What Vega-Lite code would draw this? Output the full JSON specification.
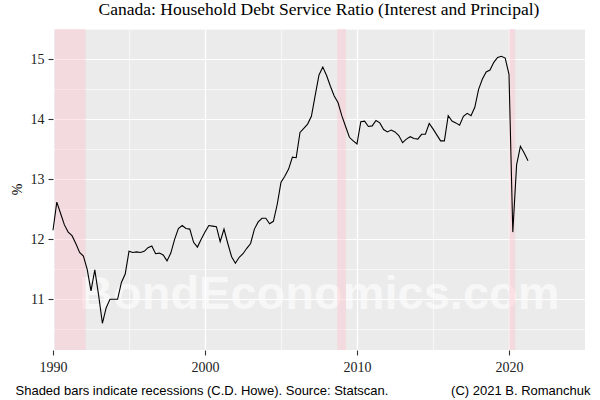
{
  "$schema": "https://vega.github.io/schema/vega-lite/v6.json",
  "autosize": "none",
  "width": 532,
  "height": 321,
  "padding": {"left": 53, "top": 29, "right": 15, "bottom": 50},
  "background": "white",
  "title": {
    "text": "Canada: Household Debt Service Ratio (Interest and Principal)",
    "font": "Liberation Serif",
    "fontSize": 17.5,
    "fontWeight": "normal",
    "color": "black",
    "anchor": "middle",
    "frame": "group",
    "baseline": "alphabetic",
    "offset": -3
  },
  "datasets": {
    "dsr": [
      {"year": 1990.0, "value": 12.15}, {"year": 1990.25, "value": 12.62}, {"year": 1990.5, "value": 12.43}, {"year": 1990.75, "value": 12.24},
      {"year": 1991.0, "value": 12.12}, {"year": 1991.25, "value": 12.06}, {"year": 1991.5, "value": 11.93}, {"year": 1991.75, "value": 11.78},
      {"year": 1992.0, "value": 11.72}, {"year": 1992.25, "value": 11.5}, {"year": 1992.5, "value": 11.14}, {"year": 1992.75, "value": 11.49},
      {"year": 1993.0, "value": 11.07}, {"year": 1993.25, "value": 10.6}, {"year": 1993.5, "value": 10.86}, {"year": 1993.75, "value": 11.0},
      {"year": 1994.0, "value": 11.0}, {"year": 1994.25, "value": 11.0}, {"year": 1994.5, "value": 11.28}, {"year": 1994.75, "value": 11.42},
      {"year": 1995.0, "value": 11.8}, {"year": 1995.25, "value": 11.78}, {"year": 1995.5, "value": 11.79}, {"year": 1995.75, "value": 11.78},
      {"year": 1996.0, "value": 11.8}, {"year": 1996.25, "value": 11.86}, {"year": 1996.5, "value": 11.89}, {"year": 1996.75, "value": 11.76},
      {"year": 1997.0, "value": 11.77}, {"year": 1997.25, "value": 11.74}, {"year": 1997.5, "value": 11.64}, {"year": 1997.75, "value": 11.77},
      {"year": 1998.0, "value": 12.0}, {"year": 1998.25, "value": 12.18}, {"year": 1998.5, "value": 12.23}, {"year": 1998.75, "value": 12.18},
      {"year": 1999.0, "value": 12.17}, {"year": 1999.25, "value": 11.95}, {"year": 1999.5, "value": 11.87}, {"year": 1999.75, "value": 12.0},
      {"year": 2000.0, "value": 12.12}, {"year": 2000.25, "value": 12.23}, {"year": 2000.5, "value": 12.22}, {"year": 2000.75, "value": 12.21},
      {"year": 2001.0, "value": 11.96}, {"year": 2001.25, "value": 12.17}, {"year": 2001.5, "value": 11.93}, {"year": 2001.75, "value": 11.71},
      {"year": 2002.0, "value": 11.6}, {"year": 2002.25, "value": 11.7}, {"year": 2002.5, "value": 11.76}, {"year": 2002.75, "value": 11.85},
      {"year": 2003.0, "value": 11.93}, {"year": 2003.25, "value": 12.17}, {"year": 2003.5, "value": 12.29}, {"year": 2003.75, "value": 12.35},
      {"year": 2004.0, "value": 12.35}, {"year": 2004.25, "value": 12.26}, {"year": 2004.5, "value": 12.3}, {"year": 2004.75, "value": 12.58},
      {"year": 2005.0, "value": 12.95}, {"year": 2005.25, "value": 13.05}, {"year": 2005.5, "value": 13.17}, {"year": 2005.75, "value": 13.37},
      {"year": 2006.0, "value": 13.36}, {"year": 2006.25, "value": 13.78}, {"year": 2006.5, "value": 13.85}, {"year": 2006.75, "value": 13.92},
      {"year": 2007.0, "value": 14.05}, {"year": 2007.25, "value": 14.4}, {"year": 2007.5, "value": 14.74}, {"year": 2007.75, "value": 14.87},
      {"year": 2008.0, "value": 14.73}, {"year": 2008.25, "value": 14.55}, {"year": 2008.5, "value": 14.39}, {"year": 2008.75, "value": 14.28},
      {"year": 2009.0, "value": 14.06}, {"year": 2009.25, "value": 13.88}, {"year": 2009.5, "value": 13.7}, {"year": 2009.75, "value": 13.64},
      {"year": 2010.0, "value": 13.59}, {"year": 2010.25, "value": 13.96}, {"year": 2010.5, "value": 13.97}, {"year": 2010.75, "value": 13.88},
      {"year": 2011.0, "value": 13.89}, {"year": 2011.25, "value": 13.98}, {"year": 2011.5, "value": 13.94}, {"year": 2011.75, "value": 13.83},
      {"year": 2012.0, "value": 13.79}, {"year": 2012.25, "value": 13.82}, {"year": 2012.5, "value": 13.79}, {"year": 2012.75, "value": 13.73},
      {"year": 2013.0, "value": 13.61}, {"year": 2013.25, "value": 13.67}, {"year": 2013.5, "value": 13.71}, {"year": 2013.75, "value": 13.68},
      {"year": 2014.0, "value": 13.67}, {"year": 2014.25, "value": 13.75}, {"year": 2014.5, "value": 13.75}, {"year": 2014.75, "value": 13.93},
      {"year": 2015.0, "value": 13.84}, {"year": 2015.25, "value": 13.74}, {"year": 2015.5, "value": 13.64}, {"year": 2015.75, "value": 13.64},
      {"year": 2016.0, "value": 14.06}, {"year": 2016.25, "value": 13.97}, {"year": 2016.5, "value": 13.94}, {"year": 2016.75, "value": 13.9},
      {"year": 2017.0, "value": 14.05}, {"year": 2017.25, "value": 14.1}, {"year": 2017.5, "value": 14.06}, {"year": 2017.75, "value": 14.2},
      {"year": 2018.0, "value": 14.5}, {"year": 2018.25, "value": 14.67}, {"year": 2018.5, "value": 14.79}, {"year": 2018.75, "value": 14.82},
      {"year": 2019.0, "value": 14.95}, {"year": 2019.25, "value": 15.03}, {"year": 2019.5, "value": 15.05}, {"year": 2019.75, "value": 15.02},
      {"year": 2020.0, "value": 14.75}, {"year": 2020.25, "value": 12.12}, {"year": 2020.5, "value": 13.24}, {"year": 2020.75, "value": 13.55},
      {"year": 2021.0, "value": 13.44}, {"year": 2021.25, "value": 13.31}
    ],
    "rec": [
      {"start": 1990.13, "end": 1992.15},
      {"start": 2008.7, "end": 2009.27},
      {"start": 2020.0, "end": 2020.41}
    ],
    "wm": [
      {"year": 2007.52, "value": 10.84, "label": "BondEconomics.com"}
    ]
  },
  "layer": [
    {
      "data": {"name": "wm"},
      "mark": {
        "type": "text",
        "font": "Liberation Sans",
        "fontWeight": "bold",
        "fontSize": 47,
        "align": "center",
        "baseline": "alphabetic",
        "color": "white",
        "opacity": 0.6
      },
      "encoding": {
        "x": {
          "field": "year",
          "type": "quantitative",
          "scale": {"domain": [1990, 2025], "nice": false, "zero": false},
          "axis": {
            "orient": "bottom",
            "values": [1990, 2000, 2010, 2020],
            "format": "d",
            "grid": true,
            "gridColor": "white",
            "gridWidth": 1.2,
            "title": "Shaded bars indicate recessions (C.D. Howe). Source: Statscan.",
            "titleFont": "Liberation Sans",
            "titleFontSize": 13,
            "titleFontWeight": "normal",
            "titleColor": "black",
            "titleAnchor": null,
            "titleAlign": "left",
            "titleBaseline": "alphabetic",
            "titleX": -38,
            "titleY": 44
          }
        },
        "y": {
          "field": "value",
          "type": "quantitative",
          "scale": {"domain": [10.155, 15.505], "nice": false, "zero": false},
          "axis": {
            "orient": "left",
            "values": [11, 12, 13, 14, 15],
            "format": "d",
            "grid": true,
            "gridColor": "white",
            "gridWidth": 1.2,
            "title": "%",
            "titleFont": "Liberation Serif",
            "titleFontSize": 14,
            "titleFontWeight": "normal",
            "titleColor": "black",
            "titleAngle": -90,
            "titleAlign": "center",
            "titleBaseline": "middle",
            "titleX": -36,
            "titleY": 160
          }
        },
        "text": {"field": "label"}
      }
    },
    {
      "data": {"name": "rec"},
      "mark": {"type": "rect", "color": "#ffc0cb", "opacity": 0.4},
      "encoding": {
        "x": {
          "field": "start",
          "type": "quantitative",
          "axis": {
            "orient": "top",
            "values": [1995, 2005, 2015, 2025],
            "grid": true,
            "gridColor": "white",
            "gridWidth": 0.6,
            "labels": false,
            "ticks": false,
            "domain": false,
            "title": null
          }
        },
        "x2": {"field": "end"}
      }
    },
    {
      "data": {"name": "dsr"},
      "mark": {"type": "line", "color": "black", "strokeWidth": 1.1},
      "encoding": {
        "x": {"field": "year", "type": "quantitative", "axis": null},
        "y": {
          "field": "value",
          "type": "quantitative",
          "axis": {
            "orient": "right",
            "values": [10.5, 11.5, 12.5, 13.5, 14.5, 15.5],
            "grid": true,
            "gridColor": "white",
            "gridWidth": 0.6,
            "labels": false,
            "ticks": false,
            "domain": false,
            "title": "(C) 2021 B. Romanchuk",
            "titleFont": "Liberation Sans",
            "titleFontSize": 13,
            "titleFontWeight": "normal",
            "titleColor": "black",
            "titleAngle": 0,
            "titleAlign": "right",
            "titleBaseline": "alphabetic",
            "titleX": 5,
            "titleY": 365
          }
        }
      }
    }
  ],
  "resolve": {"axis": {"x": "independent", "y": "independent"}},
  "config": {
    "view": {"fill": "#EBEBEB", "stroke": null},
    "axis": {
      "domain": false,
      "tickColor": "#333333",
      "tickWidth": 1.1,
      "tickSize": 5,
      "labelFont": "Liberation Serif",
      "labelFontSize": 14,
      "labelColor": "#222222",
      "labelPadding": 4,
      "labelFlush": false,
      "labelOverlap": false
    },
    "axisX": {"labelPadding": 5}
  }
}
